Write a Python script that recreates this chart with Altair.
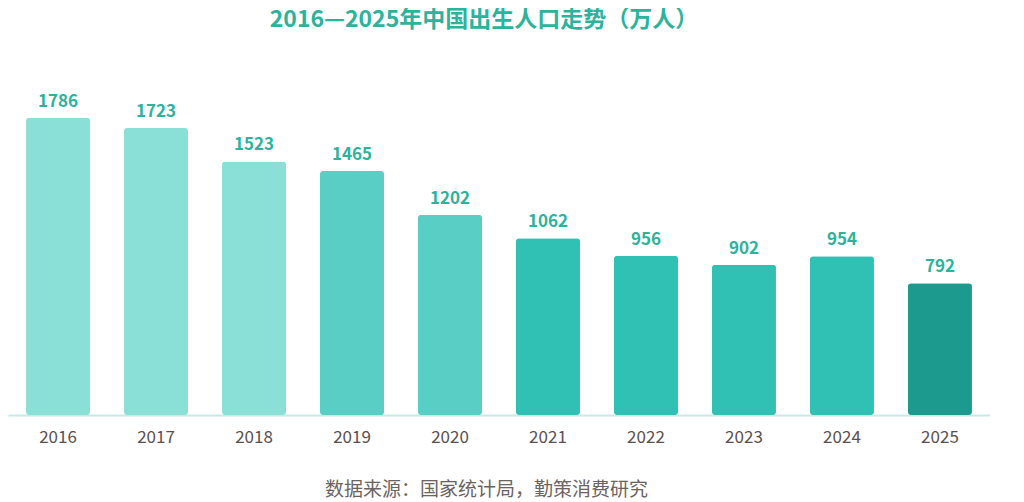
import pandas as pd
import altair as alt

# values (births, 10k persons)
years = ["2016", "2017", "2018", "2019", "2020", "2021", "2022", "2023", "2024", "2025"]
births = [1786, 1723, 1523, 1465, 1202, 1062, 956, 902, 954, 792]

# bar colours by year (style, not data)
BAR_COLORS = ["#8adfd7", "#8adfd7", "#8adfd7", "#58cec4", "#58cec4",
              "#30c0b4", "#30c0b4", "#30c0b4", "#30c0b4", "#1c9a8d"]
TEAL = "#2bb39c"
FONT = "Noto Sans CJK SC"

df = pd.DataFrame({"year": years, "births": births})

base = alt.Chart(df).encode(
    x=alt.X(
        "year:N",
        sort=years,
        title="数据来源：国家统计局，勤策消费研究",
        scale=alt.Scale(paddingInner=0.347, paddingOuter=0.184),
        axis=alt.Axis(
            labelAngle=0,
            labelFontSize=17,
            labelColor="#5a5050",
            labelFont=FONT,
            labelPadding=14,
            ticks=False,
            domainColor="#c6ebe6",
            domainWidth=2,
            titleFont=FONT,
            titleFontSize=19,
            titleFontWeight="normal",
            titleColor="#6b6362",
            titlePadding=35,
            titleX=478,
        ),
    ),
    y=alt.Y("births:Q", scale=alt.Scale(domain=[0, 2000]), axis=None),
)

bars = base.mark_bar(cornerRadius=3).encode(
    color=alt.Color("year:N", scale=alt.Scale(domain=years, range=BAR_COLORS), legend=None)
)

labels = base.mark_text(
    dy=-16, fontSize=17, fontWeight="bold", color=TEAL, font=FONT
).encode(text="births:Q")

chart = (
    alt.layer(bars, labels)
    .properties(
        width=982,
        height=333,
        padding={"left": 0, "top": 74, "right": 0, "bottom": 90},
        autosize=alt.AutoSizeParams(type="none"),
        title=alt.TitleParams(
            "2016—2025年中国出生人口走势（万人）",
            font=FONT,
            fontSize=23,
            fontWeight="bold",
            color=TEAL,
            anchor="middle",
            offset=50,
            dx=-15,
        ),
    )
    .configure_view(stroke=None)
)

chart.save("out.html", embed_options={"renderer": "svg", "actions": False})
